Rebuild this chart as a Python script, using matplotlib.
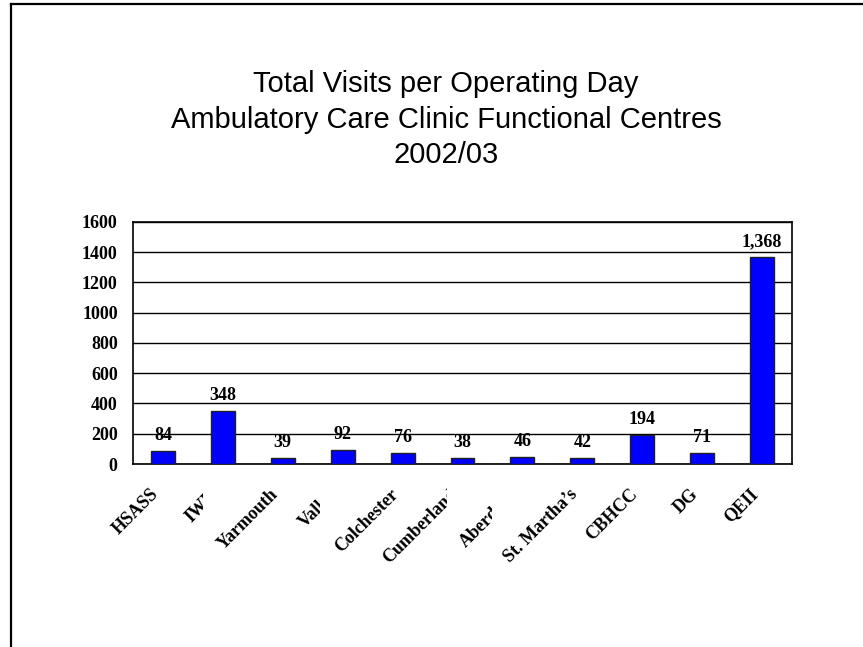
import matplotlib
matplotlib.use("Agg")
import matplotlib.pyplot as plt
import matplotlib.transforms as mtransforms
from matplotlib.lines import Line2D

# Chart data
centres = ["HSASS", "IWK", "Yarmouth", "Valley", "Colchester", "Cumberland",
           "Aberdeen", "St. Martha\u2019s", "CBHCC", "DG", "QEII"]
visits = [84, 348, 39, 92, 76, 38, 46, 42, 194, 71, 1368]
y_ticks = [0, 200, 400, 600, 800, 1000, 1200, 1400, 1600]
title_lines = ["Total Visits per Operating Day",
               "Ambulatory Care Clinic Functional Centres",
               "2002/03"]

# the original export cuts some labels off; right edge relative to tick (in bar slots)
label_clip = {"IWK": -0.33, "Valley": -0.38, "Cumberland": -0.26, "Aberdeen": -0.5}

serif_bold = {"family": "Liberation Serif", "weight": "bold", "size": 13}

fig = plt.figure(figsize=(8.63, 6.47), dpi=100)
ax = fig.add_axes([0.1541, 0.2828, 0.7636, 0.3745])

x = list(range(len(centres)))
ax.bar(x, visits, width=0.4, color="#0000FF", edgecolor="#202020",
       linewidth=1.0, zorder=3)

for xi, v in zip(x, visits):
    ax.annotate(f"{v:,}", (xi, v), xytext=(0, 5), textcoords="offset points",
                ha="center", va="bottom", zorder=4, **serif_bold)

ax.set_xlim(-0.5, len(centres) - 0.5)
ax.set_ylim(0, 1600)
ax.set_yticks(y_ticks)
ax.set_yticklabels([str(t) for t in y_ticks], fontdict=serif_bold)
ax.yaxis.grid(True, color="black", linewidth=1.0, zorder=0)
ax.set_axisbelow(True)
ax.tick_params(axis="y", length=0, pad=11)
ax.tick_params(axis="x", length=0, pad=20)
for s in ax.spines.values():
    s.set_color("black")
    s.set_linewidth(1.2)

ax.set_xticks(x)
ax.set_xticklabels(centres, fontdict=serif_bold, rotation=45,
                   ha="right", va="center", rotation_mode="anchor")
offset = mtransforms.ScaledTranslation(-7 / 100, 0, fig.dpi_scale_trans)
clip_tr = mtransforms.blended_transform_factory(ax.transData, fig.transFigure)
for i, lbl in enumerate(ax.get_xticklabels()):
    lbl.set_transform(lbl.get_transform() + offset)
    name = centres[i]
    if name in label_clip:
        bb = mtransforms.Bbox([[i - 3, 0], [i + label_clip[name], 1]])
        lbl.set_clip_box(mtransforms.TransformedBbox(bb, clip_tr))
        lbl.set_clip_on(True)

fig.text(0.517, 0.815, "\n".join(title_lines), ha="center", va="center",
         family="Liberation Sans", fontsize=21, linespacing=1.35)

# page frame
fig.add_artist(Line2D([11 / 863, 11 / 863], [0, 1 - 4 / 647], color="black",
                      linewidth=1.6, transform=fig.transFigure))
fig.add_artist(Line2D([11 / 863, 1], [1 - 4 / 647, 1 - 4 / 647], color="black",
                      linewidth=1.6, transform=fig.transFigure))

fig.savefig("out.png", dpi=100)
